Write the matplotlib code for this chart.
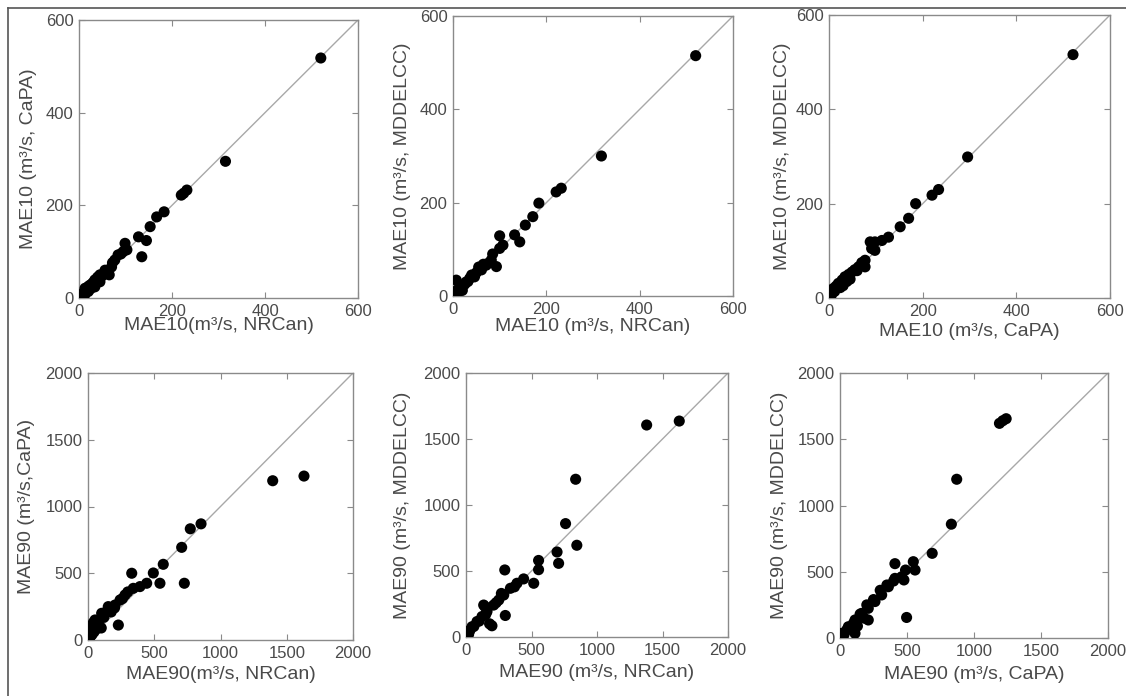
import matplotlib
matplotlib.use("Agg")
import matplotlib.pyplot as plt
from matplotlib.lines import Line2D

plt.rcParams['font.family'] = ['Liberation Sans', 'DejaVu Sans']

# ---- Data ----
# Panel 1: MAE10 NRCan vs CaPA
p1_x = [520, 315, 232, 225, 220, 183, 167, 153, 145, 128, 135, 99, 103, 95, 90, 84, 77, 72, 70, 65,
        56, 60, 50, 45, 40, 38, 34, 30, 28, 24, 22, 20, 18, 15, 13, 10, 8, 6, 4, 2, 34, 20, 25, 12, 45]
p1_y = [518, 295, 233, 226, 222, 186, 175, 154, 124, 132, 89, 118, 104, 100, 95, 93, 82, 76, 67, 50,
        60, 55, 48, 50, 45, 40, 39, 33, 30, 28, 22, 25, 18, 16, 21, 12, 8, 5, 3, 2, 24, 14, 20, 6, 35]

# Panel 2: MAE10 NRCan vs MDDELCC
p2_x = [520, 318, 232, 221, 184, 171, 155, 132, 143, 100, 107, 100, 82, 93, 71, 61, 75, 46, 50, 32,
        36, 18, 25, 7, 12, 5, 2, 40, 28, 15, 55, 65, 85, 20, 10]
p2_y = [515, 300, 231, 223, 199, 170, 152, 131, 116, 129, 109, 102, 77, 63, 66, 56, 70, 41, 50, 31,
        38, 20, 25, 34, 15, 10, 5, 45, 30, 22, 62, 68, 90, 12, 8]

# Panel 3: MAE10 CaPA vs MDDELCC
p3_x = [521, 296, 234, 220, 185, 170, 152, 127, 113, 98, 88, 98, 91, 77, 63, 77, 49, 34, 20, 9,
        2, 55, 42, 28, 15, 70, 60, 45, 30, 5, 12, 24, 38]
p3_y = [516, 299, 230, 218, 200, 169, 151, 129, 122, 119, 119, 101, 105, 80, 66, 66, 55, 45, 31, 20,
        9, 60, 50, 38, 25, 75, 58, 40, 26, 6, 14, 22, 35]

# Panel 4: MAE90 NRCan vs CaPA
p4_x = [1630, 1394, 853, 772, 707, 727, 568, 493, 330, 543, 443, 392, 342, 279, 242, 204, 153, 103, 53, 28,
        15, 229, 153, 40, 175, 120, 80, 60, 30, 10, 5, 300, 260, 200, 100, 45, 20]
p4_y = [1228, 1193, 870, 833, 694, 425, 567, 502, 500, 425, 425, 400, 387, 337, 300, 262, 237, 200, 150, 100,
        52, 112, 250, 130, 210, 170, 120, 80, 40, 20, 10, 360, 310, 240, 90, 60, 30]

# Panel 5: MAE90 NRCan vs MDDELCC
p5_x = [1628, 1379, 837, 760, 846, 695, 707, 554, 554, 296, 440, 517, 389, 339, 288, 250, 211, 160, 122, 84,
        46, 8, 300, 198, 135, 145, 180, 100, 60, 30, 20, 230, 270, 150, 370]
p5_y = [1636, 1606, 1195, 859, 695, 644, 558, 580, 510, 508, 440, 407, 407, 369, 318, 280, 242, 192, 155, 117,
        78, 40, 163, 85, 242, 230, 100, 120, 80, 50, 20, 260, 330, 170, 380]

# Panel 6: MAE90 CaPA vs MDDELCC
p6_x = [1240, 1215, 1190, 871, 831, 688, 410, 547, 560, 489, 477, 497, 410, 361, 311, 261, 211, 162, 112, 62,
        12, 211, 112, 460, 300, 250, 200, 150, 100, 50, 30, 350, 400, 180, 130]
p6_y = [1655, 1640, 1620, 1198, 859, 639, 561, 576, 513, 513, 438, 155, 450, 387, 325, 275, 224, 186, 136, 85,
        35, 136, 35, 462, 360, 290, 250, 180, 110, 60, 25, 400, 430, 150, 90]

ticks10 = [0, 200, 400, 600]
ticks90 = [0, 500, 1000, 1500, 2000]

xlabels = ["MAE10(m³/s, NRCan)", "MAE10 (m³/s, NRCan)", "MAE10 (m³/s, CaPA)",
           "MAE90(m³/s, NRCan)", "MAE90 (m³/s, NRCan)", "MAE90 (m³/s, CaPA)"]
ylabels = ["MAE10 (m³/s, CaPA)", "MAE10 (m³/s, MDDELCC)", "MAE10 (m³/s, MDDELCC)",
           "MAE90 (m³/s,CaPA)", "MAE90 (m³/s, MDDELCC)", "MAE90 (m³/s, MDDELCC)"]

W, H = 1126, 696
fig = plt.figure(figsize=(W / 100, H / 100), dpi=100)

# axes boxes in pixels: left, top, right, bottom
boxes = [(79, 20, 358, 298), (453, 16, 733, 296), (829, 15, 1110, 298),
         (88, 373, 353, 640), (466, 373, 728, 637), (840, 373, 1108, 638)]
ylab_coords = [-0.150, -0.150, -0.135, -0.200, -0.210, -0.195]
xlab_coords = [-0.070, -0.077, -0.087, -0.096, -0.104, -0.104]

data = [(p1_x, p1_y), (p2_x, p2_y), (p3_x, p3_y), (p4_x, p4_y), (p5_x, p5_y), (p6_x, p6_y)]
txt = '#4a4a4a'
spine = '#8a8a8a'

for i, ((l, t, r, b), (xs, ys)) in enumerate(zip(boxes, data)):
    ax = fig.add_axes([l / W, 1 - b / H, (r - l) / W, (b - t) / H])
    ticks = ticks10 if i < 3 else ticks90
    lim = ticks[-1]
    ax.plot([0, lim], [0, lim], color='#a8a8a8', lw=1.0, zorder=1)
    ax.scatter(xs, ys, s=64, color='black', edgecolors='none', zorder=3)
    ax.set_xlim(0, lim)
    ax.set_ylim(0, lim)
    ax.set_xticks(ticks)
    ax.set_yticks(ticks)
    ax.tick_params(direction='in', top=True, right=True, length=4, width=0.8,
                   color=spine, labelcolor=txt, labelsize=12, pad=4)
    for s in ax.spines.values():
        s.set_color(spine)
        s.set_linewidth(1.0)
    ax.set_xlabel(xlabels[i], fontsize=14, color=txt)
    ax.set_ylabel(ylabels[i], fontsize=14, color=txt)
    ax.yaxis.set_label_coords(ylab_coords[i], 0.5)
    ax.xaxis.set_label_coords(0.5, xlab_coords[i])

# outer frame lines (top and left)
fig.add_artist(Line2D([8 / W, 1], [1 - 8 / H, 1 - 8 / H], transform=fig.transFigure, color='#555555', lw=1.2))
fig.add_artist(Line2D([8 / W, 8 / W], [0, 1 - 8 / H], transform=fig.transFigure, color='#555555', lw=1.2))

fig.savefig('out.png', dpi=100)
